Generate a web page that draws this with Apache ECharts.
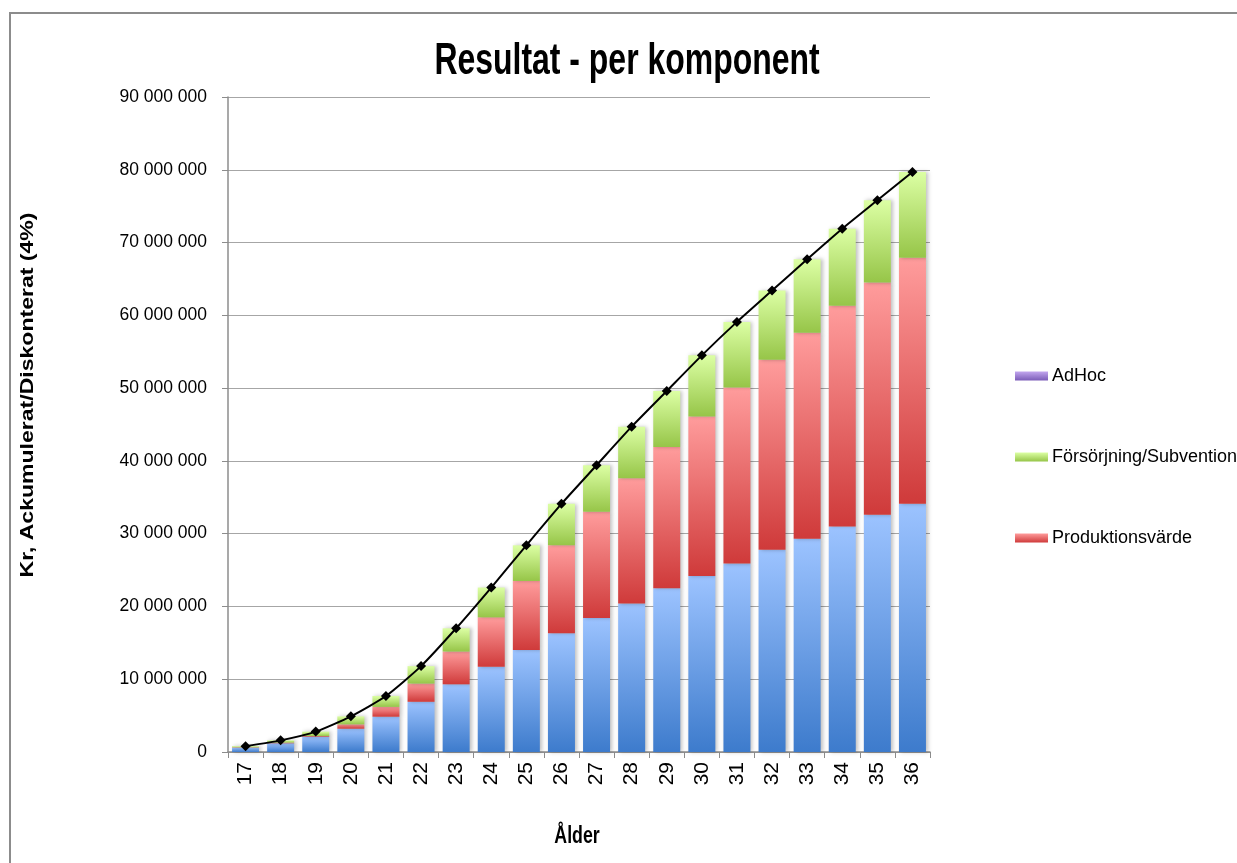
<!DOCTYPE html>
<html>
<head>
<meta charset="utf-8">
<title>Resultat - per komponent</title>
<style>
  html, body { margin: 0; padding: 0; background: #fff; }
  #main { width: 1237px; height: 863px; }
</style>
<script src="https://cdn.jsdelivr.net/npm/echarts@6/dist/echarts.min.js"></script>
</head>
<body>
<div id="main"></div>
<script>
// värden i miljoner kr
const ages = ['17', '18', '19', '20', '21', '22', '23', '24', '25', '26',
  '27', '28', '29', '30', '31', '32', '33', '34', '35', '36'];
const baseValues = [0.6, 1.2, 2.1, 3.2, 4.85, 6.9, 9.3, 11.7, 14.0, 16.3,
  18.4, 20.4, 22.5, 24.2, 25.9, 27.8, 29.3, 31.0, 32.6, 34.1];
const produktionValues = [0.05, 0.1, 0.1, 0.6, 1.35, 2.5, 4.5, 6.8, 9.5, 12.1,
  14.6, 17.2, 19.4, 21.9, 24.2, 26.1, 28.3, 30.3, 31.9, 33.8];
const forsorjningValues = [0.15, 0.3, 0.6, 1.1, 1.5, 2.4, 3.2, 4.1, 4.9, 5.7,
  6.4, 7.1, 7.7, 8.4, 9.0, 9.5, 10.1, 10.6, 11.3, 11.8];
const adhocValues = [0, 0, 0, 0, 0, 0, 0, 0, 0, 0,
  0, 0, 0, 0, 0, 0, 0, 0, 0, 0];
const totalValues = [0.8, 1.6, 2.8, 4.9, 7.7, 11.8, 17.0, 22.6, 28.4, 34.1,
  39.4, 44.7, 49.6, 54.5, 59.1, 63.4, 67.7, 71.9, 75.8, 79.7];
const yTicks = { min: 0, max: 90, step: 10 };

const MKR = 1000000;
const toKr = (arr) => arr.map((v) => v * MKR);
const sans = '"Liberation Sans", Arial, sans-serif';

function grad(top, bottom) {
  return new echarts.graphic.LinearGradient(0, 0, 0, 1, [
    { offset: 0, color: top },
    { offset: 1, color: bottom }
  ]);
}

const barShadow = {
  shadowBlur: 4,
  shadowColor: 'rgba(0, 0, 0, 0.25)',
  shadowOffsetX: 2,
  shadowOffsetY: 0
};

const myChart = echarts.init(document.getElementById('main'));
myChart.setOption({
  animation: false,
  backgroundColor: '#fff',
  graphic: [
    {
      type: 'polyline',
      silent: true,
      shape: { points: [[10, 863], [10, 13], [1237, 13]] },
      style: { stroke: '#8c8c8c', lineWidth: 2, fill: null }
    },
    // rubriken är smal och hög i originalet, därav scaleX
    {
      type: 'text',
      x: 627,
      y: 62,
      scaleX: 0.71,
      style: {
        text: 'Resultat - per komponent',
        font: 'bold 45px ' + sans,
        fill: '#000',
        align: 'center',
        verticalAlign: 'middle'
      }
    },
    {
      type: 'text',
      x: 28,
      y: 395,
      rotation: Math.PI / 2,
      scaleX: 1.28,
      style: {
        text: 'Kr, Ackumulerat/Diskonterat (4%)',
        font: 'bold 18px ' + sans,
        fill: '#000',
        align: 'center',
        verticalAlign: 'middle'
      }
    },
    {
      type: 'text',
      x: 577,
      y: 836,
      scaleX: 0.74,
      style: {
        text: 'Ålder',
        font: 'bold 24px ' + sans,
        fill: '#000',
        align: 'center',
        verticalAlign: 'middle'
      }
    }
  ],
  legend: {
    orient: 'vertical',
    left: 1010,
    top: 362,
    itemWidth: 33,
    itemHeight: 9,
    itemGap: 63,
    icon: 'rect',
    data: ['AdHoc', 'Försörjning/Subvention', 'Produktionsvärde'],
    textStyle: { fontFamily: sans, fontSize: 18, color: '#000', padding: [0, 0, 0, -1] }
  },
  grid: {
    left: 228,
    right: 307,
    top: 97,
    bottom: 111
  },
  xAxis: {
    type: 'category',
    data: ages,
    axisLine: { lineStyle: { color: '#8c8c8c', width: 1.5 } },
    axisTick: { show: true, length: 6, lineStyle: { color: '#8c8c8c' } },
    axisLabel: {
      rotate: 90,
      margin: 10,
      fontFamily: sans,
      fontSize: 21,
      color: '#000'
    }
  },
  yAxis: {
    type: 'value',
    min: yTicks.min * MKR,
    max: yTicks.max * MKR,
    interval: yTicks.step * MKR,
    axisLine: { show: true, lineStyle: { color: '#8c8c8c', width: 1.5 } },
    axisTick: { show: true, length: 6, lineStyle: { color: '#8c8c8c' } },
    splitLine: { lineStyle: { color: '#a6a6a6', width: 1.2 } },
    axisLabel: {
      margin: 21,
      fontFamily: sans,
      fontSize: 17.5,
      color: '#000',
      formatter: (v) => String(v).replace(/\B(?=(\d{3})+(?!\d))/g, ' ')
    }
  },
  series: [
    {
      name: 'Arbete',
      type: 'bar',
      stack: 'komponent',
      barWidth: 27,
      data: toKr(baseValues),
      itemStyle: Object.assign({ color: grad('#9cc3ff', '#3d7bcc') }, barShadow)
    },
    {
      name: 'Produktionsvärde',
      type: 'bar',
      stack: 'komponent',
      data: toKr(produktionValues),
      itemStyle: Object.assign({ color: grad('#ff9c9c', '#cf3a3a') }, barShadow)
    },
    {
      name: 'Försörjning/Subvention',
      type: 'bar',
      stack: 'komponent',
      data: toKr(forsorjningValues),
      itemStyle: Object.assign({ color: grad('#dcffa4', '#96c548') }, barShadow)
    },
    {
      name: 'AdHoc',
      type: 'bar',
      stack: 'komponent',
      data: toKr(adhocValues),
      itemStyle: Object.assign({ color: grad('#c2a6ee', '#7b5cb8') }, barShadow)
    },
    {
      name: 'Totalt',
      type: 'line',
      data: toKr(totalValues),
      smooth: 0.2,
      symbol: 'diamond',
      symbolSize: 10,
      z: 10,
      lineStyle: { color: '#000', width: 2 },
      itemStyle: { color: '#000' }
    }
  ]
});
</script>
</body>
</html>
